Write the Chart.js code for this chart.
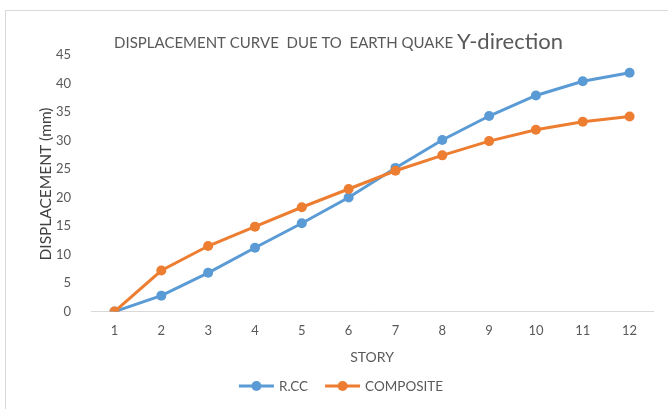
<!DOCTYPE html>
<html>
<head>
<meta charset="utf-8">
<script src="https://cdn.jsdelivr.net/npm/chart.js@4.4.1/dist/chart.umd.min.js"></script>
<style>
    html, body { margin: 0; padding: 0; background: #ffffff; }
    #wrap { width: 668px; height: 409px; position: relative; }
</style>
</head>
<body>
<div id="wrap"><canvas id="dispChart" width="668" height="409"></canvas></div>
<script>
// data
const stories = ["1", "2", "3", "4", "5", "6", "7", "8", "9", "10", "11", "12"];
const rccValues = [0, 2.8, 6.8, 11.2, 15.5, 20.0, 25.2, 30.1, 34.3, 37.9, 40.4, 41.9];
const compositeValues = [0, 7.2, 11.5, 14.9, 18.3, 21.5, 24.7, 27.4, 29.9, 31.9, 33.3, 34.2];
const seriesNames = ["R.CC", "COMPOSITE"];
const titleMain = "DISPLACEMENT CURVE  DUE TO  EARTH QUAKE ";
const titleTail = "Y-direction";
const yTitle = "DISPLACEMENT (mm)";

const FONT = "Lato, 'Open Sans', sans-serif";
const BLUE = "#5b9bd5";
const ORANGE = "#ed7d31";

// frame, titles and legend are drawn by hand (Excel style)
const decorations = {
    id: "decorations",
    beforeDraw: function (chart) {
        const ctx = chart.ctx;
        ctx.save();
        ctx.strokeStyle = "#d9d9d9";
        ctx.lineWidth = 1;
        ctx.beginPath();
        ctx.moveTo(5.5, 409);
        ctx.lineTo(5.5, 10.5);
        ctx.lineTo(668, 10.5);
        ctx.stroke();
        ctx.restore();
    },
    afterDraw: function (chart) {
        const ctx = chart.ctx;
        const area = chart.chartArea;
        ctx.save();
        // chart title, two sizes
        ctx.textBaseline = "middle";
        ctx.font = "15px " + FONT;
        const w1 = ctx.measureText(titleMain).width;
        ctx.font = "22px " + FONT;
        const w2 = ctx.measureText(titleTail).width;
        let x = 338.5 - (w1 + w2) / 2;
        ctx.fillStyle = "#595959";
        ctx.font = "15px " + FONT;
        ctx.fillText(titleMain, x, 43);
        ctx.font = "22px " + FONT;
        ctx.fillText(titleTail, x + w1, 42);

        // y axis title
        ctx.save();
        ctx.translate(45, 184);
        ctx.rotate(-Math.PI / 2);
        ctx.textAlign = "center";
        ctx.fillStyle = "#404040";
        ctx.font = "15.5px " + FONT;
        ctx.fillText(yTitle, 0, 1);
        ctx.restore();

        // legend
        ctx.font = "13.5px " + FONT;
        ctx.textBaseline = "middle";
        ctx.textAlign = "left";
        const y = 386;
        const items = chart.data.datasets.map(function (ds) {
            return { text: ds.label, color: ds.borderColor };
        });
        const lineLen = 35, gap = 5, spacing = 17;
        let total = 0;
        items.forEach(function (it, i) {
            total += lineLen + gap + ctx.measureText(it.text).width;
            if (i < items.length - 1) total += spacing;
        });
        x = 341 - total / 2;
        items.forEach(function (it) {
            ctx.strokeStyle = it.color;
            ctx.lineWidth = 3;
            ctx.beginPath();
            ctx.moveTo(x, y);
            ctx.lineTo(x + lineLen, y);
            ctx.stroke();
            ctx.fillStyle = it.color;
            ctx.beginPath();
            ctx.arc(x + lineLen / 2, y, 5, 0, Math.PI * 2);
            ctx.fill();
            ctx.fillStyle = "#595959";
            ctx.fillText(it.text, x + lineLen + gap, y + 1);
            x += lineLen + gap + ctx.measureText(it.text).width + spacing;
        });
        ctx.restore();
    }
};

document.addEventListener("DOMContentLoaded", function () {
    const canvas = document.getElementById("dispChart");
    new Chart(canvas.getContext("2d"), {
        type: "line",
        data: {
            labels: stories,
            datasets: [
                {
                    label: seriesNames[0],
                    data: rccValues,
                    borderColor: BLUE,
                    backgroundColor: BLUE,
                    borderWidth: 3,
                    pointRadius: 5,
                    pointHoverRadius: 5,
                    pointBorderWidth: 0,
                    tension: 0,
                    order: 1
                },
                {
                    label: seriesNames[1],
                    data: compositeValues,
                    borderColor: ORANGE,
                    backgroundColor: ORANGE,
                    borderWidth: 3,
                    pointRadius: 5,
                    pointHoverRadius: 5,
                    pointBorderWidth: 0,
                    tension: 0,
                    order: 0
                }
            ]
        },
        options: {
            responsive: false,
            animation: false,
            layout: {
                padding: { top: 55, right: 15, bottom: 43, left: 44 }
            },
            scales: {
                x: {
                    offset: true,
                    grid: { display: false },
                    border: { display: true, color: "#d9d9d9", width: 1 },
                    ticks: { color: "#595959", font: { family: FONT, size: 13 }, padding: 3, maxRotation: 0 },
                    title: {
                        display: true,
                        text: "STORY",
                        color: "#595959",
                        font: { family: FONT, size: 14 },
                        padding: { top: 8, bottom: 0 }
                    }
                },
                y: {
                    min: 0,
                    max: 45,
                    grid: { display: false },
                    border: { display: false },
                    ticks: { stepSize: 5, color: "#595959", font: { family: FONT, size: 13 }, padding: 12 }
                }
            },
            plugins: {
                legend: { display: false },
                title: { display: false },
                tooltip: { enabled: false }
            }
        },
        plugins: [decorations]
    });
});
</script>
</body>
</html>
